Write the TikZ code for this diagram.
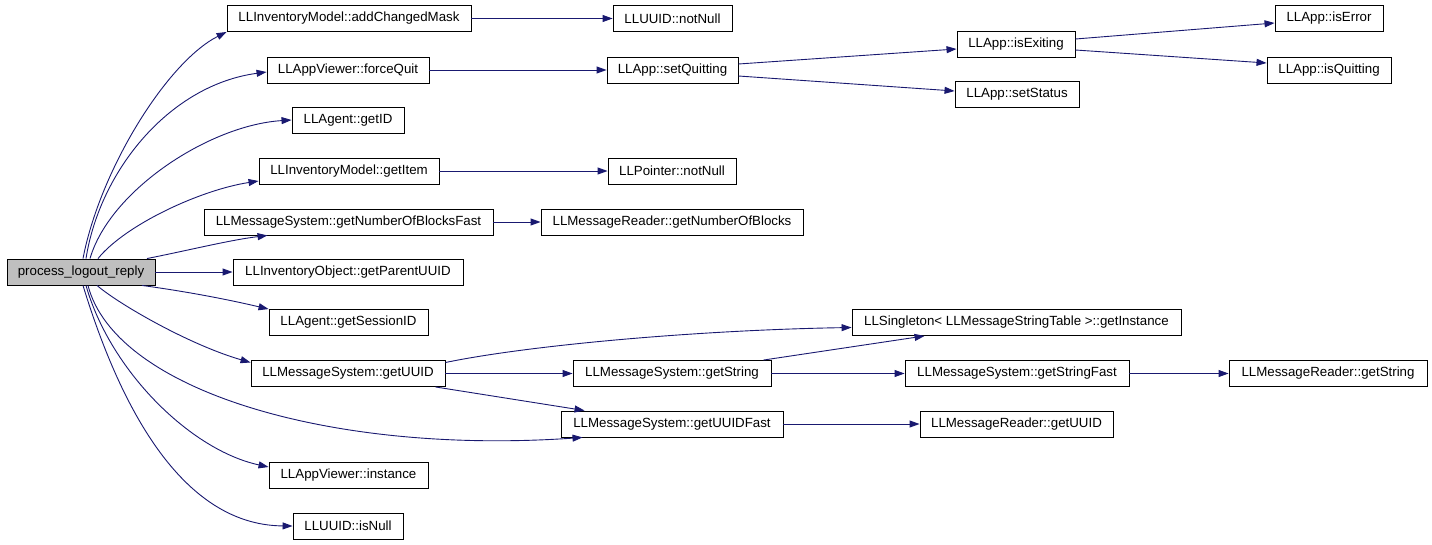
\documentclass[tikz,border=0pt]{standalone}
\usepackage{fontspec}
\setmainfont{Liberation Sans}
\usetikzlibrary{arrows.meta}
\definecolor{edgec}{HTML}{191970}
\definecolor{rootfill}{HTML}{BFBFBF}
\tikzset{
  box/.style={draw=black, line width=0.9pt, inner sep=0pt, minimum height=26pt,
    font=\fontsize{13.3}{15}\selectfont, anchor=center},
  rootbox/.style={box, fill=rootfill},
  edge/.style={draw=edgec, line width=0.9pt, -{Triangle[length=10pt,width=7pt]}}
}
\begin{document}
\begin{tikzpicture}[x=1pt,y=-1pt]
\useasboundingbox (0,0) rectangle (1432,544);
% column 0
\node[rootbox, minimum width=148pt] (A) at (81,272) {process\_logout\_reply};
% column 1
\node[box, minimum width=244pt] (B) at (349,18.5) {LLInventoryModel::addChangedMask};
\node[box, minimum width=162pt] (C) at (348,70) {LLAppViewer::forceQuit};
\node[box, minimum width=112pt] (D) at (348,120) {LLAgent::getID};
\node[box, minimum width=180pt] (E) at (349,171) {LLInventoryModel::getItem};
\node[box, minimum width=289pt] (F) at (348.5,222) {LLMessageSystem::getNumberOfBlocksFast};
\node[box, minimum width=230pt] (G) at (348,272) {LLInventoryObject::getParentUUID};
\node[box, minimum width=159pt] (H) at (348.5,322.5) {LLAgent::getSessionID};
\node[box, minimum width=194pt] (I) at (348,373.5) {LLMessageSystem::getUUID};
\node[box, minimum width=159pt] (J) at (348.5,475) {LLAppViewer::instance};
\node[box, minimum width=110pt] (K) at (348,526) {LLUUID::isNull};
% column 2
\node[box, minimum width=119pt] (L) at (672.5,18.5) {LLUUID::notNull};
\node[box, minimum width=131pt] (M) at (672.5,70) {LLApp::setQuitting};
\node[box, minimum width=128pt] (N) at (672,171) {LLPointer::notNull};
\node[box, minimum width=262pt] (O) at (672,222) {LLMessageReader::getNumberOfBlocks};
\node[box, minimum width=198pt] (P) at (672,373.5) {LLMessageSystem::getString};
\node[box, minimum width=222pt] (Q) at (672,424) {LLMessageSystem::getUUIDFast};
% column 3
\node[box, minimum width=118pt] (R) at (1016,44.5) {LLApp::isExiting};
\node[box, minimum width=124pt] (S) at (1017,94.5) {LLApp::setStatus};
\node[box, minimum width=329pt] (V) at (1016.5,322.5) {LLSingleton< LLMessageStringTable >::getInstance};
\node[box, minimum width=224pt] (W) at (1017,373.5) {LLMessageSystem::getStringFast};
\node[box, minimum width=193pt] (Y) at (1016.5,424) {LLMessageReader::getUUID};
% column 4
\node[box, minimum width=108pt] (T) at (1329,18.5) {LLApp::isError};
\node[box, minimum width=124pt] (U) at (1329,70) {LLApp::isQuitting};
\node[box, minimum width=198pt] (X) at (1328,373.5) {LLMessageReader::getString};
% edges from root
\draw[edge] ([xshift=2pt]A.north) .. controls (100,170) and (167,62) .. (B.south west);
\draw[edge] ([xshift=5pt]A.north) .. controls (100,170) and (170,85) .. ([yshift=-2pt]C.west);
\draw[edge] ([xshift=9pt]A.north) .. controls (110,190) and (210,125) .. (D.west);
\draw[edge] ([xshift=17pt]A.north) .. controls (125,225) and (200,190) .. ([yshift=-10pt]E.west);
\draw[edge] ([xshift=66pt]A.north) .. controls (190,250) and (230,240) .. ([xshift=64pt]F.south west);
\draw[edge] (A.east) -- (G.west);
\draw[edge] ([xshift=61pt]A.south) .. controls (190,292) and (230,300) .. (H.north west);
\draw[edge] ([xshift=16pt]A.south) .. controls (120,305) and (190,345) .. ([yshift=11pt]I.west);
\draw[edge] ([xshift=7pt]A.south) .. controls (115,390) and (330,455) .. ([xshift=22pt]Q.south west);
\draw[edge] ([xshift=5pt]A.south) .. controls (110,370) and (190,450) .. ([yshift=8pt]J.west);
\draw[edge] ([xshift=2pt]A.south) .. controls (115,390) and (175,525) .. (K.west);
% other edges
\draw[edge] (B.east) -- (L.west);
\draw[edge] (C.east) -- (M.west);
\draw[edge] (E.east) -- (N.west);
\draw[edge] (F.east) -- (O.west);
\draw[edge] (I.east) -- (P.west);
\draw[edge] ([yshift=11pt]I.east) .. controls (530,345) and (700,330) .. ([yshift=-5pt]V.west);
\draw[edge] ([xshift=-10pt]I.south east) -- ([xshift=24pt]Q.north west);
\draw[edge] ([xshift=-8pt]P.north east) -- ([xshift=73pt]V.south west);
\draw[edge] (P.east) -- (W.west);
\draw[edge] (W.east) -- (X.west);
\draw[edge] (Q.east) -- (Y.west);
\draw[edge] ([yshift=6pt]M.east) -- ([yshift=-4.5pt]R.west);
\draw[edge] ([yshift=-6pt]M.east) -- ([yshift=3.5pt]S.west);
\draw[edge] ([yshift=5.5pt]R.east) -- ([yshift=-4.5pt]T.west);
\draw[edge] ([yshift=-5.5pt]R.east) -- ([yshift=7pt]U.west);
\end{tikzpicture}
\end{document}
